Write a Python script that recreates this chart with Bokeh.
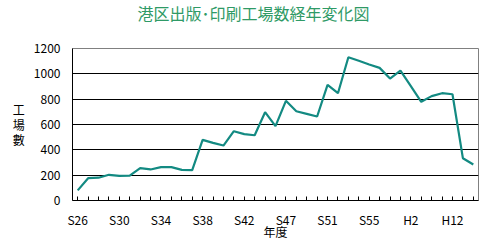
from bokeh.plotting import figure
from bokeh.models import FixedTicker, Range1d
from bokeh.embed import file_html
from bokeh.resources import INLINE

years = ["S26", "S27", "S28", "S29", "S30", "S31", "S32", "S33", "S34", "S35",
         "S36", "S37", "S38", "S39", "S40", "S41", "S42", "S43", "S44", "S45",
         "S47", "S48", "S49", "S50", "S51", "S52", "S53", "S54", "S55", "S57",
         "S60", "S63", "H2", "H5", "H8", "H10", "H12", "H14", "H15"]
factories = [80, 176, 180, 203, 194, 197, 255, 245, 263, 263,
             242, 240, 479, 455, 434, 547, 524, 515, 697, 587,
             787, 705, 684, 663, 913, 847, 1131, 1103, 1074, 1047,
             963, 1026, 903, 779, 824, 847, 839, 334, 284]
y_ticks = [0, 200, 400, 600, 800, 1000, 1200]
title_text = "港区出版･印刷工場数経年変化図"
y_title = "工\n場\n數"
x_title = "年度"

FONT = "Noto Sans CJK JP"
xs = list(range(len(years)))

p = figure(width=500, height=250, output_backend="svg", toolbar_location=None,
           x_range=Range1d(-0.5, len(years) - 0.5), y_range=Range1d(0, 1200),
           min_border_left=72, min_border_right=22, min_border_top=48,
           min_border_bottom=50, title=title_text + "\n ")
p.background_fill_color = "white"
p.border_fill_color = "white"
p.outline_line_color = "#808080"
p.outline_line_width = 1

p.title.align = "left"
p.title.offset = 65
p.title.standoff = 0
p.title.vertical_align = "top"
p.title.text_line_height = 0.9
p.title.text_font = FONT
p.title.text_font_size = "16px"
p.title.text_font_style = "normal"
p.title.text_color = "#2f9a66"

p.line(xs, factories, line_color="#138a82", line_width=2.2)

# x axis
p.xaxis.ticker = FixedTicker(ticks=xs)
p.xaxis.major_label_overrides = {i: (years[i] if i % 4 == 0 else "") for i in xs}
p.xaxis.major_tick_in = 4
p.xaxis.major_tick_out = 0
p.xaxis.minor_tick_line_color = None
p.xaxis.axis_line_color = "black"
p.xaxis.major_tick_line_color = "black"
p.xaxis.major_label_text_font = FONT
p.xaxis.major_label_text_font_size = "12px"
p.xaxis.major_label_text_color = "black"
p.xaxis.major_label_standoff = 10
p.xaxis.axis_label = x_title
p.xaxis.axis_label_text_font = FONT
p.xaxis.axis_label_text_font_size = "12px"
p.xaxis.axis_label_text_font_style = "normal"
p.xaxis.axis_label_text_color = "black"
p.xaxis.axis_label_standoff = -8

# y axis
p.yaxis.ticker = FixedTicker(ticks=y_ticks)
p.yaxis.major_tick_in = 0
p.yaxis.major_tick_out = 0
p.yaxis.minor_tick_line_color = None
p.yaxis.axis_line_color = "black"
p.yaxis.major_label_text_font = FONT
p.yaxis.major_label_text_font_size = "12px"
p.yaxis.major_label_text_color = "black"
p.yaxis.major_label_standoff = 12
p.yaxis.axis_label = y_title
p.yaxis.axis_label_orientation = "horizontal"
p.yaxis.axis_label_text_font = FONT
p.yaxis.axis_label_text_font_size = "12px"
p.yaxis.axis_label_text_font_style = "normal"
p.yaxis.axis_label_text_color = "black"
p.yaxis.axis_label_text_line_height = 0.9
p.yaxis.axis_label_standoff = 6

p.xgrid.grid_line_color = None
p.ygrid.ticker = FixedTicker(ticks=y_ticks[1:-1])
p.ygrid.grid_line_color = "black"
p.ygrid.grid_line_width = 1

open("out.html", "w").write(file_html(p, INLINE))
